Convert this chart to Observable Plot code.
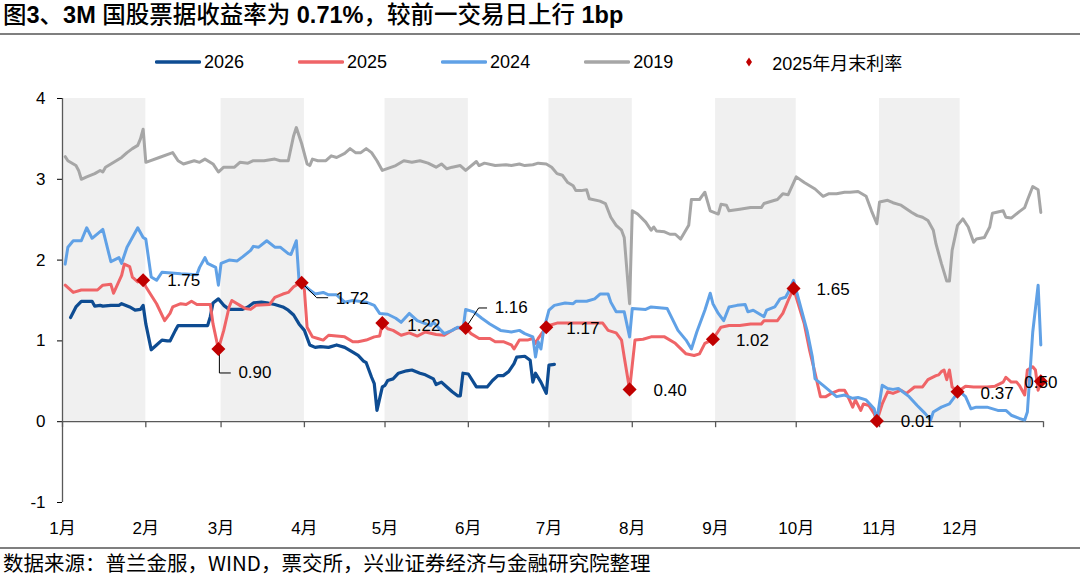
<!DOCTYPE html>
<html>
<head>
<meta charset="utf-8">
<script src="https://cdn.jsdelivr.net/npm/d3@7"></script>
<script src="https://cdn.jsdelivr.net/npm/@observablehq/plot@0.6"></script>
<style>
  html, body { margin: 0; padding: 0; background: #fff; }
  body {
    width: 1080px; height: 576px; position: relative; overflow: hidden;
    font-family: "Liberation Sans", Arial, "Noto Sans CJK SC", sans-serif; color: #000;
  }
  #title {
    position: absolute; left: 3px; top: 0px; font-size: 23.5px; line-height: 31px; font-weight: bold;
    white-space: nowrap; font-family: "Liberation Sans", Arial, "Noto Sans CJK SC", sans-serif;
  }
  #title .cjk { font-weight: 500; }
  .rule { position: absolute; left: 0; width: 1080px; background: #7f7f7f; }
  #legend {
    position: absolute; top: 51px; left: 155px; height: 22px;
    display: flex; align-items: center; gap: 54px; font-size: 18px; white-space: nowrap;
  }
  #legend .item { display: flex; align-items: center; gap: 3px; }
  #legend .item.marker { gap: 19px; margin-left: 18px; }
  #legend .cjk { font-family: "Noto Sans CJK SC", sans-serif; }
  #chart { position: absolute; left: 0; top: 80px; }
  #caption {
    position: absolute; left: 3px; top: 549px; font-size: 20.5px; line-height: 26px;
    font-family: "Noto Sans CJK SC", sans-serif; white-space: nowrap;
  }
</style>
</head>
<body>
<div id="title"><span class="cjk">图</span>3<span class="cjk">、</span>3M <span class="cjk">国股票据收益率为</span> 0.71%<span class="cjk">，较前一交易日上行</span> 1bp</div>
<div class="rule" style="top:33px;height:2px;"></div>
<div id="legend"></div>
<div id="chart"></div>
<div class="rule" style="top:547px;height:1.5px;"></div>
<div id="caption">数据来源：普兰金服，WIND，票交所，兴业证券经济与金融研究院整理</div>

<script>
// ---- Data: 3M bill yields (%) by calendar day, one list per year ----
const monthLabels = ["1月", "2月", "3月", "4月", "5月", "6月", "7月", "8月", "9月", "10月", "11月", "12月"];
const shadedMonths = [1, 3, 5, 7, 9, 11];
const yTicks = [-1, 0, 1, 2, 3, 4];

const yield2026 = [
  ["01-04", 1.29], ["01-06", 1.42], ["01-08", 1.49], ["01-12", 1.49], ["01-13", 1.43], ["01-15", 1.44],
  ["01-16", 1.43], ["01-19", 1.44], ["01-22", 1.44], ["01-23", 1.46], ["01-26", 1.42], ["01-28", 1.38],
  ["01-30", 1.39], ["01-31", 1.44], ["02-01", 1.21], ["02-03", 0.89], ["02-05", 0.95], ["02-07", 1.01],
  ["02-09", 1.00], ["02-10", 1.00], ["02-12", 1.13], ["02-13", 1.19], ["02-16", 1.19], ["02-21", 1.19],
  ["02-24", 1.19], ["02-25", 1.30], ["02-26", 1.47], ["02-28", 1.52], ["03-02", 1.44], ["03-04", 1.39],
  ["03-09", 1.39], ["03-11", 1.42], ["03-13", 1.47], ["03-16", 1.48], ["03-18", 1.47], ["03-21", 1.45],
  ["03-24", 1.42], ["03-26", 1.38], ["03-28", 1.32], ["03-30", 1.21], ["04-01", 1.13], ["04-03", 0.95],
  ["04-05", 0.92], ["04-07", 0.93], ["04-10", 0.92], ["04-13", 0.95], ["04-16", 0.92], ["04-19", 0.86],
  ["04-21", 0.82], ["04-23", 0.75], ["04-24", 0.73], ["04-26", 0.55], ["04-27", 0.47], ["04-28", 0.14],
  ["04-30", 0.43], ["05-01", 0.45], ["05-02", 0.51], ["05-04", 0.53], ["05-06", 0.60], ["05-09", 0.63],
  ["05-11", 0.64], ["05-14", 0.60], ["05-16", 0.58], ["05-19", 0.53], ["05-20", 0.46], ["05-22", 0.49],
  ["05-24", 0.43], ["05-26", 0.37], ["05-28", 0.32], ["05-29", 0.32], ["05-30", 0.60], ["06-01", 0.59],
  ["06-04", 0.43], ["06-06", 0.43], ["06-08", 0.43], ["06-10", 0.51], ["06-12", 0.57], ["06-14", 0.57],
  ["06-16", 0.62], ["06-18", 0.72], ["06-19", 0.80], ["06-22", 0.81], ["06-24", 0.76], ["06-25", 0.49],
  ["06-26", 0.60], ["06-28", 0.49], ["06-30", 0.35], ["07-01", 0.70], ["07-03", 0.71]
];

const yield2025 = [
  ["01-02", 1.69], ["01-05", 1.60], ["01-08", 1.63], ["01-14", 1.63], ["01-16", 1.69], ["01-19", 1.70],
  ["01-20", 1.59], ["01-23", 1.81], ["01-24", 1.95], ["01-26", 1.92], ["01-27", 1.79], ["01-29", 1.73],
  ["01-31", 1.75], ["02-01", 1.67], ["02-05", 1.46], ["02-08", 1.25], ["02-10", 1.34], ["02-11", 1.42],
  ["02-14", 1.46], ["02-16", 1.45], ["02-18", 1.49], ["02-20", 1.45], ["02-23", 1.45], ["02-25", 1.45],
  ["02-26", 1.21], ["02-28", 0.90], ["03-02", 1.13], ["03-04", 1.42], ["03-05", 1.50], ["03-08", 1.44],
  ["03-10", 1.40], ["03-12", 1.39], ["03-14", 1.44], ["03-19", 1.45], ["03-21", 1.54], ["03-24", 1.58],
  ["03-26", 1.60], ["03-28", 1.67], ["03-30", 1.71], ["03-31", 1.72], ["04-01", 1.63], ["04-02", 1.17],
  ["04-04", 1.05], ["04-06", 1.03], ["04-08", 1.01], ["04-10", 1.07], ["04-13", 1.06], ["04-16", 1.05],
  ["04-19", 0.99], ["04-21", 0.99], ["04-24", 1.01], ["04-27", 1.05], ["04-29", 1.06], ["04-30", 1.22],
  ["05-02", 1.15], ["05-04", 1.13], ["05-07", 1.07], ["05-10", 1.10], ["05-13", 1.06], ["05-16", 1.11],
  ["05-20", 1.08], ["05-23", 1.07], ["05-27", 1.15], ["05-29", 1.17], ["05-31", 1.16], ["06-02", 1.09],
  ["06-05", 1.03], ["06-09", 1.03], ["06-11", 0.99], ["06-14", 0.99], ["06-17", 0.95], ["06-18", 0.90],
  ["06-20", 1.01], ["06-23", 1.01], ["06-25", 1.03], ["06-26", 0.97], ["06-27", 1.03], ["06-30", 1.17],
  ["07-01", 1.19], ["07-04", 1.22], ["07-10", 1.22], ["07-15", 1.22], ["07-21", 1.22], ["07-23", 1.13],
  ["07-26", 1.10], ["07-28", 1.01], ["07-29", 0.80], ["07-31", 0.40], ["08-02", 1.01], ["08-05", 1.02],
  ["08-08", 1.05], ["08-13", 1.05], ["08-17", 0.97], ["08-21", 0.84], ["08-24", 0.82], ["08-26", 0.84],
  ["08-28", 0.97], ["08-31", 1.02], ["09-03", 1.17], ["09-06", 1.19], ["09-10", 1.19], ["09-14", 1.21],
  ["09-18", 1.21], ["09-19", 1.25], ["09-24", 1.25], ["09-26", 1.34], ["09-28", 1.50], ["09-30", 1.65],
  ["10-01", 1.54], ["10-04", 1.21], ["10-06", 0.88], ["10-08", 0.60], ["10-10", 0.31], ["10-12", 0.31],
  ["10-14", 0.35], ["10-17", 0.39], ["10-19", 0.39], ["10-20", 0.33], ["10-22", 0.18], ["10-23", 0.27],
  ["10-25", 0.14], ["10-26", 0.22], ["10-28", 0.20], ["10-30", 0.10], ["10-31", 0.01], ["11-02", 0.22],
  ["11-04", 0.37], ["11-06", 0.35], ["11-09", 0.39], ["11-11", 0.35], ["11-14", 0.43], ["11-17", 0.43],
  ["11-19", 0.52], ["11-22", 0.57], ["11-23", 0.58], ["11-24", 0.62], ["11-25", 0.64], ["11-26", 0.52],
  ["11-27", 0.64], ["11-28", 0.43], ["11-30", 0.37], ["12-03", 0.44], ["12-06", 0.43], ["12-11", 0.43],
  ["12-14", 0.44], ["12-17", 0.49], ["12-18", 0.55], ["12-20", 0.49], ["12-22", 0.49], ["12-23", 0.45],
  ["12-25", 0.33], ["12-26", 0.64], ["12-28", 0.68], ["12-29", 0.64], ["12-30", 0.39], ["12-31", 0.50]
];

const yield2024 = [
  ["01-02", 1.95], ["01-03", 2.16], ["01-05", 2.24], ["01-08", 2.24], ["01-10", 2.40], ["01-12", 2.27],
  ["01-16", 2.38], ["01-19", 1.98], ["01-22", 2.03], ["01-23", 1.96], ["01-25", 2.16], ["01-29", 2.40],
  ["01-31", 2.28], ["02-01", 2.26], ["02-03", 1.79], ["02-05", 1.75], ["02-07", 1.85], ["02-14", 1.83],
  ["02-20", 1.82], ["02-21", 1.91], ["02-23", 2.03], ["02-24", 1.96], ["02-27", 1.91], ["02-28", 1.69],
  ["03-01", 1.96], ["03-04", 2.00], ["03-07", 1.99], ["03-09", 2.04], ["03-12", 2.12], ["03-13", 2.17],
  ["03-15", 2.16], ["03-18", 2.24], ["03-21", 2.16], ["03-23", 2.16], ["03-26", 2.08], ["03-27", 2.07],
  ["03-29", 2.24], ["03-30", 1.75], ["03-31", 1.71], ["04-03", 1.63], ["04-05", 1.58], ["04-08", 1.60],
  ["04-10", 1.57], ["04-13", 1.57], ["04-16", 1.48], ["04-19", 1.50], ["04-24", 1.48], ["04-27", 1.44],
  ["04-29", 1.34], ["05-02", 1.33], ["05-05", 1.28], ["05-07", 1.23], ["05-10", 1.34], ["05-13", 1.25],
  ["05-18", 1.19], ["05-19", 1.23], ["05-23", 1.09], ["05-26", 1.13], ["05-28", 1.17], ["05-30", 1.14],
  ["05-31", 1.39], ["06-03", 1.36], ["06-06", 1.28], ["06-09", 1.21], ["06-13", 1.13], ["06-17", 1.11],
  ["06-20", 1.13], ["06-22", 1.09], ["06-25", 1.05], ["06-26", 0.80], ["06-27", 0.99], ["06-28", 0.90],
  ["06-29", 1.13], ["07-01", 1.38], ["07-03", 1.44], ["07-07", 1.47], ["07-10", 1.46], ["07-11", 1.49],
  ["07-15", 1.49], ["07-18", 1.52], ["07-20", 1.58], ["07-23", 1.58], ["07-24", 1.48], ["07-26", 1.36],
  ["07-29", 1.36], ["07-31", 1.05], ["08-01", 1.40], ["08-06", 1.39], ["08-08", 1.42], ["08-14", 1.40],
  ["08-18", 1.13], ["08-21", 1.01], ["08-23", 0.90], ["08-25", 1.11], ["08-28", 1.38], ["08-30", 1.59],
  ["08-31", 1.46], ["09-02", 1.34], ["09-04", 1.25], ["09-06", 1.42], ["09-09", 1.44], ["09-12", 1.45],
  ["09-13", 1.36], ["09-15", 1.38], ["09-17", 1.34], ["09-19", 1.30], ["09-20", 1.38], ["09-23", 1.42],
  ["09-25", 1.52], ["09-27", 1.54], ["09-28", 1.60], ["09-30", 1.75], ["10-02", 1.50], ["10-05", 1.13],
  ["10-07", 0.80], ["10-08", 0.53], ["10-11", 0.45], ["10-16", 0.31], ["10-19", 0.33], ["10-22", 0.29],
  ["10-24", 0.30], ["10-27", 0.27], ["10-30", 0.16], ["10-31", 0.02], ["11-02", 0.45], ["11-04", 0.41],
  ["11-06", 0.40], ["11-08", 0.41], ["11-12", 0.31], ["11-15", 0.20], ["11-18", 0.10], ["11-20", 0.02],
  ["11-21", 0.12], ["11-24", 0.18], ["11-27", 0.22], ["11-29", 0.31], ["12-01", 0.37], ["12-03", 0.31],
  ["12-05", 0.16], ["12-07", 0.18], ["12-11", 0.18], ["12-15", 0.14], ["12-18", 0.14], ["12-20", 0.08],
  ["12-23", 0.04], ["12-25", 0.02], ["12-26", 0.12], ["12-28", 1.11], ["12-30", 1.69], ["12-31", 0.95]
];

const yield2019 = [
  ["01-02", 3.28], ["01-03", 3.23], ["01-06", 3.17], ["01-07", 3.11], ["01-08", 3.00], ["01-10", 3.03],
  ["01-13", 3.07], ["01-15", 3.11], ["01-16", 3.09], ["01-17", 3.15], ["01-19", 3.19], ["01-21", 3.23],
  ["01-23", 3.27], ["01-25", 3.33], ["01-27", 3.38], ["01-29", 3.42], ["01-30", 3.50], ["01-31", 3.62],
  ["02-01", 3.21], ["02-06", 3.27], ["02-11", 3.33], ["02-13", 3.23], ["02-15", 3.19], ["02-19", 3.23],
  ["02-21", 3.21], ["02-23", 3.25], ["02-26", 3.19], ["02-28", 3.09], ["03-02", 3.15], ["03-06", 3.15],
  ["03-08", 3.21], ["03-11", 3.20], ["03-13", 3.23], ["03-17", 3.23], ["03-21", 3.25], ["03-23", 3.23],
  ["03-26", 3.23], ["03-28", 3.54], ["03-29", 3.64], ["03-31", 3.44], ["04-02", 3.19], ["04-03", 3.17],
  ["04-04", 3.25], ["04-06", 3.23], ["04-09", 3.23], ["04-11", 3.29], ["04-13", 3.27], ["04-16", 3.32],
  ["04-18", 3.38], ["04-20", 3.33], ["04-22", 3.33], ["04-24", 3.38], ["04-26", 3.33], ["04-28", 3.23],
  ["04-30", 3.11], ["05-05", 3.17], ["05-08", 3.23], ["05-11", 3.21], ["05-14", 3.23], ["05-17", 3.20],
  ["05-20", 3.15], ["05-22", 3.19], ["05-24", 3.13], ["05-26", 3.15], ["05-29", 3.17], ["05-31", 3.11],
  ["06-04", 3.22], ["06-05", 3.17], ["06-07", 3.20], ["06-11", 3.17], ["06-15", 3.18], ["06-17", 3.17],
  ["06-20", 3.19], ["06-22", 3.17], ["06-25", 3.18], ["06-27", 3.20], ["06-30", 3.19], ["07-02", 3.15],
  ["07-04", 3.07], ["07-06", 3.05], ["07-08", 2.96], ["07-10", 2.92], ["07-11", 2.86], ["07-13", 2.86],
  ["07-15", 2.87], ["07-16", 2.76], ["07-20", 2.73], ["07-22", 2.70], ["07-24", 2.53], ["07-26", 2.43],
  ["07-28", 2.37], ["07-29", 2.28], ["07-31", 1.46], ["08-01", 2.61], ["08-03", 2.57], ["08-06", 2.47],
  ["08-08", 2.37], ["08-09", 2.41], ["08-10", 2.36], ["08-13", 2.35], ["08-15", 2.32], ["08-17", 2.32],
  ["08-19", 2.26], ["08-22", 2.43], ["08-23", 2.75], ["08-26", 2.75], ["08-28", 2.84], ["08-30", 2.61],
  ["09-02", 2.57], ["09-03", 2.69], ["09-05", 2.68], ["09-06", 2.61], ["09-10", 2.63], ["09-14", 2.65],
  ["09-18", 2.65], ["09-19", 2.70], ["09-23", 2.74], ["09-24", 2.75], ["09-26", 2.82], ["09-28", 2.81],
  ["10-01", 3.03], ["10-04", 2.96], ["10-08", 2.88], ["10-11", 2.79], ["10-13", 2.82], ["10-16", 2.82],
  ["10-19", 2.84], ["10-21", 2.84], ["10-24", 2.85], ["10-27", 2.79], ["10-29", 2.61], ["10-31", 2.45],
  ["11-01", 2.72], ["11-04", 2.74], ["11-06", 2.71], ["11-08", 2.69], ["11-09", 2.68], ["11-13", 2.59],
  ["11-15", 2.55], ["11-17", 2.53], ["11-19", 2.49], ["11-21", 2.37], ["11-22", 2.20], ["11-24", 1.96],
  ["11-26", 1.74], ["11-27", 1.74], ["11-28", 2.12], ["11-30", 2.43], ["12-02", 2.51], ["12-04", 2.41],
  ["12-06", 2.22], ["12-07", 2.26], ["12-10", 2.28], ["12-12", 2.41], ["12-13", 2.58], ["12-17", 2.61],
  ["12-18", 2.53], ["12-20", 2.52], ["12-23", 2.60], ["12-25", 2.65], ["12-26", 2.74], ["12-28", 2.91],
  ["12-30", 2.87], ["12-31", 2.59]
];

// 2025 month-end rates (labelled diamonds)
const monthEnd2025 = [
  ["01-31", 1.75], ["02-28", 0.90], ["03-31", 1.72], ["04-30", 1.22], ["05-31", 1.16], ["06-30", 1.17],
  ["07-31", 0.40], ["08-31", 1.02], ["09-30", 1.65], ["10-31", 0.01], ["11-30", 0.37], ["12-31", 0.50]
];

// ---- Presentation ----
const series = [
  {name: "2026", data: yield2026, color: "#0e4c92", width: 3.2},
  {name: "2025", data: yield2025, color: "#ef6467", width: 3},
  {name: "2024", data: yield2024, color: "#60a1e6", width: 3},
  {name: "2019", data: yield2019, color: "#a6a6a6", width: 3}
];
const markerColor = "#c00000";
const axisColor = "#595959";

// label offsets in pixels from each diamond; some labels get a leader line
const labelPlace = {
  "01-31": {dx: 24, dy: 0},
  "02-28": {dx: 20, dy: 24, leader: [[1, 5], [1, 24], [12, 24]]},
  "03-31": {dx: 34, dy: 16, leader: [[0, 0], [15, 15], [26, 15]]},
  "04-30": {dx: 25, dy: 2},
  "05-31": {dx: 29, dy: -20, leader: [[0, 0], [13, -20], [21, -20]]},
  "06-30": {dx: 20, dy: 1},
  "07-31": {dx: 24, dy: 1},
  "08-31": {dx: 23, dy: 1},
  "09-30": {dx: 23, dy: 1},
  "10-31": {dx: 24, dy: 1},
  "11-30": {dx: 23, dy: 2},
  "12-31": {dx: 0, dy: 1, anchor: "middle"}
};

const W = 1080, H = 462;
const M = {top: 18, right: 37, bottom: 40, left: 62};

const YEAR = 2025;
const toDate = md => new Date(Date.UTC(YEAR, +md.slice(0, 2) - 1, +md.slice(3, 5)));
const monthStarts = d3.range(13).map(m => new Date(Date.UTC(YEAR, m, 1)));
const yDomain = [d3.min(yTicks), d3.max(yTicks)];

const pxPerUnit = (H - M.top - M.bottom) / (yDomain[1] - yDomain[0]);
const pxPerMs = (W - M.left - M.right) / (monthStarts[12] - monthStarts[0]);

const bands = shadedMonths.map(m => ({start: monthStarts[m - 1], end: monthStarts[m]}));
const rows = s => s.data.map(([md, v]) => ({date: toDate(md), value: v}));
const markers = monthEnd2025.map(([md, v]) => ({key: md, date: toDate(md), value: v}));

const leaders = markers.flatMap(m => {
  const p = labelPlace[m.key];
  if (!p.leader) return [];
  return p.leader.map(([dx, dy]) => ({
    key: m.key,
    date: new Date(+m.date + dx / pxPerMs),
    value: m.value - dy / pxPerUnit
  }));
});

const labelMarks = markers.map(m => {
  const p = labelPlace[m.key];
  return Plot.text([m], {
    x: "date", y: "value", text: d => d.value.toFixed(2),
    dx: p.dx, dy: p.dy, textAnchor: p.anchor || "start",
    fontSize: 17, fill: "#000"
  });
});

const chart = Plot.plot({
  width: W, height: H,
  marginTop: M.top, marginRight: M.right, marginBottom: M.bottom, marginLeft: M.left,
  style: {
    fontFamily: '"Liberation Sans", Arial, "Noto Sans CJK SC", sans-serif',
    fontSize: "17px", color: "#000", background: "transparent", overflow: "visible"
  },
  x: {
    type: "utc", domain: [monthStarts[0], monthStarts[12]],
    ticks: monthStarts.slice(0, 12), tickFormat: d => monthLabels[d.getUTCMonth()],
    tickSize: 0, tickPadding: 19, label: null
  },
  y: {domain: yDomain, ticks: yTicks, tickFormat: d => String(d), tickSize: 5, tickPadding: 12, label: null},
  marks: [
    Plot.rect(bands, {x1: "start", x2: "end", y1: 0, y2: yDomain[1], fill: "#f0f0f0"}),
    Plot.ruleX([monthStarts[0]], {y1: yDomain[0], y2: yDomain[1], stroke: axisColor, strokeWidth: 1.3}),
    Plot.ruleY([0], {stroke: axisColor, strokeWidth: 1.3}),
    Plot.ruleX(monthStarts, {y1: 0, y2: -6 / pxPerUnit, stroke: axisColor, strokeWidth: 1.3}),
    ...series.map(s => Plot.line(rows(s), {
      x: "date", y: "value", stroke: s.color, strokeWidth: s.width,
      strokeLinejoin: "round", strokeLinecap: "round"
    })),
    Plot.line(leaders, {x: "date", y: "value", z: "key", stroke: "#000", strokeWidth: 1}),
    Plot.dot(markers, {x: "date", y: "value", symbol: "square", rotate: 45, r: 5.6, fill: markerColor, stroke: "none"}),
    ...labelMarks
  ]
});
document.getElementById("chart").appendChild(chart);

// ---- Legend ----
const legend = d3.select("#legend");
series.forEach(s => {
  const item = legend.append("div").attr("class", "item");
  item.append("svg").attr("width", 46).attr("height", 10)
    .append("line").attr("x1", 1.5).attr("x2", 44.5).attr("y1", 5).attr("y2", 5)
    .attr("stroke", s.color).attr("stroke-width", 3.5).attr("stroke-linecap", "round");
  item.append("span").text(s.name);
});
const mk = legend.append("div").attr("class", "item marker");
mk.append("svg").attr("width", 8).attr("height", 12)
  .append("path").attr("d", "M4,1.5L7,6L4,10.5L1,6Z").attr("fill", markerColor);
mk.append("span").html('2025<span class="cjk">年月末利率</span>');
</script>
</body>
</html>
